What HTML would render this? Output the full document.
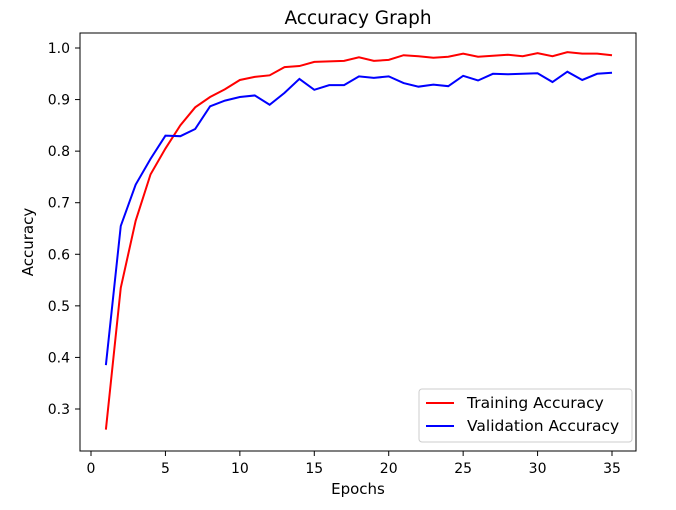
<!DOCTYPE html>
<html><head><meta charset="utf-8"><style>
body{margin:0;background:#fff;}
svg text{font-family:"DejaVu Sans","Liberation Sans",sans-serif;fill:#000;}
</style></head><body>
<svg id="chart" width="676" height="505">
<rect x="0" y="0" width="676" height="505" fill="#fff"/>
<text x="358" y="24" font-size="18.5" text-anchor="middle">Accuracy Graph</text>
<g id="xt"></g>
<g id="yt"></g>
<g id="series"></g>
<rect x="80" y="33" width="556" height="418" fill="none" stroke="#000" stroke-width="1"/>
<text x="358" y="494" font-size="15" text-anchor="middle">Epochs</text>
<text x="33" y="242" font-size="15" text-anchor="middle" transform="rotate(-90 33 242)">Accuracy</text>
<g>
<rect x="419" y="389" width="213" height="53" rx="3" fill="#fff" stroke="#ccc"/>
<g><line x1="426" y1="403" x2="454" y2="403" stroke="red" stroke-width="2"/><text x="467" y="408" font-size="15.5">Training Accuracy</text></g>
<g><line x1="426" y1="426" x2="454" y2="426" stroke="blue" stroke-width="2"/><text x="467" y="431" font-size="15.5">Validation Accuracy</text></g>
</g>
</svg>
<script>
const epochs=[1,2,3,4,5,6,7,8,9,10,11,12,13,14,15,16,17,18,19,20,21,22,23,24,25,26,27,28,29,30,31,32,33,34,35];
const trainAcc=[0.26,0.535,0.665,0.755,0.805,0.85,0.885,0.905,0.92,0.938,0.944,0.947,0.963,0.965,0.973,0.974,0.975,0.982,0.975,0.977,0.986,0.984,0.981,0.983,0.989,0.983,0.985,0.987,0.984,0.99,0.984,0.992,0.989,0.989,0.986];
const valAcc=[0.385,0.655,0.735,0.785,0.83,0.829,0.843,0.887,0.898,0.905,0.908,0.89,0.913,0.94,0.919,0.928,0.928,0.945,0.942,0.945,0.932,0.925,0.929,0.926,0.946,0.937,0.95,0.949,0.95,0.951,0.934,0.954,0.938,0.95,0.952];
const xTicks=[0,5,10,15,20,25,30,35];
const yTicks=[0.3,0.4,0.5,0.6,0.7,0.8,0.9,1.0];
const NS="http://www.w3.org/2000/svg";
function xs(e){return 91+e*14.886;}
function ys(v){return 48+(1-v)*515.7;}
const xt=document.getElementById('xt'),yt=document.getElementById('yt'),sg=document.getElementById('series');
xTicks.forEach(t=>{
 const l=document.createElementNS(NS,'line');
 
 
 l.setAttribute('x1',xs(t));l.setAttribute('x2',xs(t));l.setAttribute('y1',451);l.setAttribute('y2',456);l.setAttribute('stroke','#000');xt.appendChild(l);
 const tx=document.createElementNS(NS,'text');
 
 
 tx.setAttribute('x',xs(t));tx.setAttribute('y',473);tx.setAttribute('font-size','14');tx.setAttribute('text-anchor','middle');tx.textContent=t;xt.appendChild(tx);
});
yTicks.forEach(t=>{
 const l=document.createElementNS(NS,'line');
 
 
 l.setAttribute('x1',75);l.setAttribute('x2',80);l.setAttribute('y1',ys(t));l.setAttribute('y2',ys(t));l.setAttribute('stroke','#000');yt.appendChild(l);
 const tx=document.createElementNS(NS,'text');
 
 
 tx.setAttribute('x',70);tx.setAttribute('y',ys(t)+5);tx.setAttribute('font-size','14');tx.setAttribute('text-anchor','end');tx.textContent=t.toFixed(1);yt.appendChild(tx);
});
function line(data,color,name){
 const p=document.createElementNS(NS,'polyline');
 
 
 p.setAttribute('points',data.map((v,i)=>xs(epochs[i])+','+ys(v)).join(' '));
 p.setAttribute('fill','none');p.setAttribute('stroke',color);p.setAttribute('stroke-width','2');
 sg.appendChild(p);
}
line(trainAcc,'red','training-accuracy-line');
line(valAcc,'blue','validation-accuracy-line');
</script>
</body></html>
